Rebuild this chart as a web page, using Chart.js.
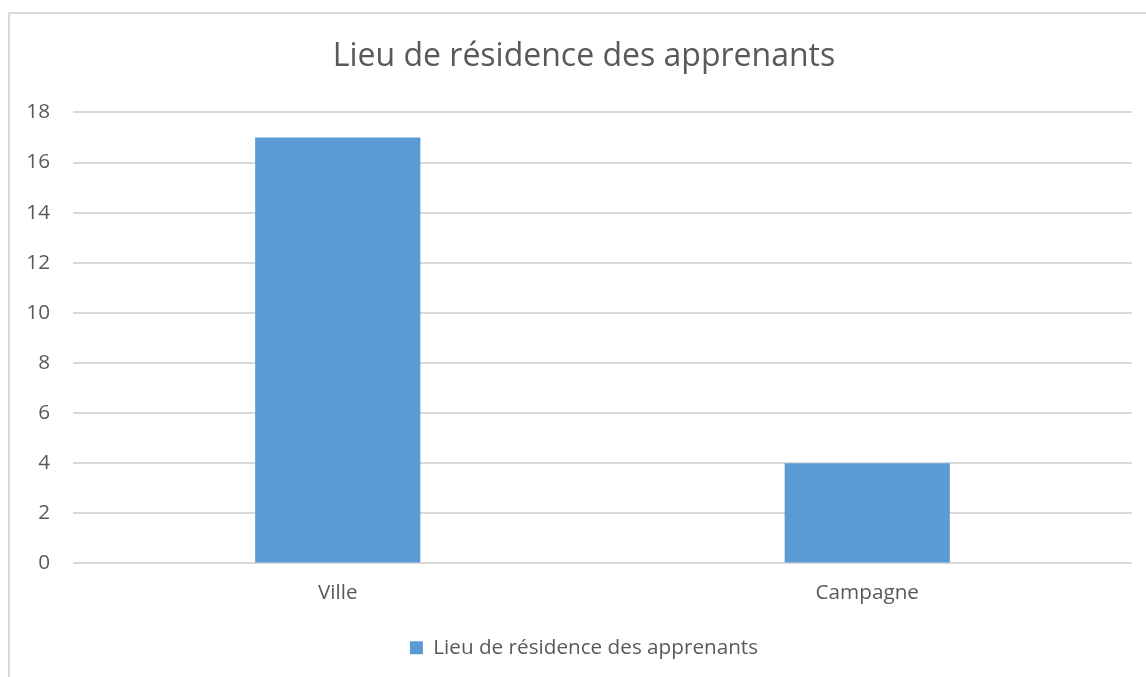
<!DOCTYPE html>
<html>
<head>
<meta charset="utf-8">
<script src="https://cdn.jsdelivr.net/npm/chart.js@4"></script>
<style>
  body { margin: 0; background: #fff; overflow: hidden; }
  #frame {
    position: absolute; left: 8px; top: 12px; width: 1140px; height: 680px;
    border-top: 2px solid #d9d9d9; border-left: 2px solid #d9d9d9;
  }
  #wrap { position: absolute; left: 0; top: 0; width: 1162px; height: 677px; }
</style>
</head>
<body>
<div id="frame"></div>
<div id="wrap"><canvas id="chart"></canvas></div>
<script>
const categories = ['Ville', 'Campagne'];
const seriesName = 'Lieu de résidence des apprenants';
const values = [17, 4];
const yTicks = [0, 2, 4, 6, 8, 10, 12, 14, 16, 18];

const textColor = '#595959';
const fontFamily = '"Open Sans", sans-serif';

new Chart(document.getElementById('chart'), {
    type: 'bar',
    data: {
        labels: categories,
        datasets: [{
            label: seriesName,
            data: values,
            backgroundColor: '#5b9bd5',
            categoryPercentage: 1,
            barPercentage: 0.312
        }]
    },
    options: {
        responsive: true,
        maintainAspectRatio: false,
        animation: false,
        layout: { padding: { left: 20, right: 14, top: 38, bottom: 9 } },
        plugins: {
            title: {
                display: true,
                text: seriesName,
                color: textColor,
                font: { family: fontFamily, size: 32, weight: 'normal' },
                padding: { top: 0, bottom: 36 }
            },
            legend: {
                position: 'bottom',
                labels: {
                    color: textColor,
                    font: { family: fontFamily, size: 20.7 },
                    boxWidth: 13,
                    boxHeight: 13,
                    padding: 23
                }
            },
            tooltip: { enabled: false }
        },
        scales: {
            x: {
                grid: { display: false },
                border: { display: false },
                ticks: { color: textColor, font: { family: fontFamily, size: 20.7 }, padding: 9 }
            },
            y: {
                min: 0,
                max: 18,
                afterBuildTicks: s => { s.ticks = yTicks.map(v => ({ value: v })); },
                afterFit: s => { s.width = 53; },
                grid: { color: '#d9d9d9', lineWidth: 2, drawTicks: false },
                border: { display: false },
                ticks: { color: textColor, font: { family: fontFamily, size: 20.7 }, padding: 23 }
            },
            // empty spacer on the right so the title and legend centre like the original
            spacer: {
                type: 'linear',
                position: 'right',
                afterFit: s => { s.width = 16; },
                grid: { display: false },
                border: { display: false },
                ticks: { display: false }
            }
        }
    }
});
</script>
</body>
</html>
